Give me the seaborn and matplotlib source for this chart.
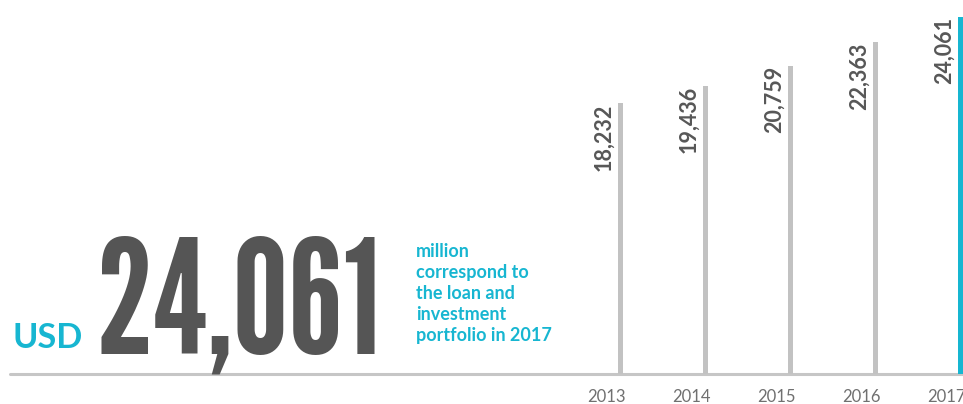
import matplotlib
matplotlib.use("Agg")
import matplotlib.pyplot as plt
import seaborn as sns
import pandas as pd

# ---- data ----
years = ["2013", "2014", "2015", "2016", "2017"]
portfolio = [18232, 19436, 20759, 22363, 24061]
highlight_year = "2017"
headline_value = "24,061"
headline_currency = "USD"
headline_note = ["million", "correspond to", "the loan and", "investment", "portfolio in 2017"]

# ---- style ----
W, H = 963, 404
GRAY_BAR = "#C2C2C2"
CYAN = "#17B6D1"
DARK = "#575757"
YEAR_COL = "#707070"

sns.set_theme(style="white")
plt.rcParams["font.family"] = ["Lato", "DejaVu Sans"]

df = pd.DataFrame({"year": years, "value": portfolio})
df["kind"] = ["hi" if y == highlight_year else "base" for y in years]

fig = plt.figure(figsize=(W / 100, H / 100), dpi=100)
ax = fig.add_axes([0, 0, 1, 1])

# geometry (pixels -> data)
x0_px, step_px = 620.7, 84.95
base_px_from_bottom = 30
top_val_px = 357  # pixel height of the 2017 bar
u_per_px = max(portfolio) / top_val_px

sns.barplot(data=df, x="year", y="value", hue="kind",
            palette={"base": GRAY_BAR, "hi": CYAN}, width=5 / step_px,
            legend=False, ax=ax, saturation=1, linewidth=0)

ax.set_xlim(-x0_px / step_px, (W - x0_px) / step_px)
ax.set_ylim(-base_px_from_bottom * u_per_px, (H - base_px_from_bottom) * u_per_px)
ax.axis("off")


def fx(px):
    return px / W


def fy(py):
    return 1 - py / H


# baseline rule
ax.axhline(0, xmin=fx(10), xmax=1, color="#C6C6C6", lw=2.2, zorder=0.5)

# value labels and year labels
for i, (yr, v) in enumerate(zip(years, portfolio)):
    ax.text(i - 16.5 / step_px, v, f"{v:,}", rotation=90, ha="center", va="top",
            fontsize=15.5, fontweight="bold", color=DARK)
    ax.text(i - 14 / step_px, -23 * u_per_px, yr, ha="center", va="center",
            fontsize=12, fontweight="normal", color=YEAR_COL)


# headline texts, fitted to measured widths
def fit_text(t, target_w):
    fig.canvas.draw()
    bb = t.get_window_extent()
    t.set_fontsize(t.get_fontsize() * target_w / bb.width)


usd = fig.text(fx(12), fy(348), headline_currency, ha="left", va="baseline",
               fontsize=22, fontweight="bold", color=CYAN)
big = fig.text(fx(95), fy(353), headline_value, ha="left", va="baseline",
               fontsize=100, family=["League Gothic", "DejaVu Sans"], color="#555555")
fit_text(usd, 70)
fit_text(big, 286)

note_texts = []
for k, line in enumerate(headline_note):
    t = fig.text(fx(416), fy(257 + 21 * k), line, ha="left", va="baseline",
                 fontsize=13, fontweight="bold", color=CYAN)
    note_texts.append(t)
fig.canvas.draw()
w_last = note_texts[-1].get_window_extent().width
sc = 136 / w_last
for t in note_texts:
    t.set_fontsize(t.get_fontsize() * sc)

fig.savefig("out.png", dpi=100)
